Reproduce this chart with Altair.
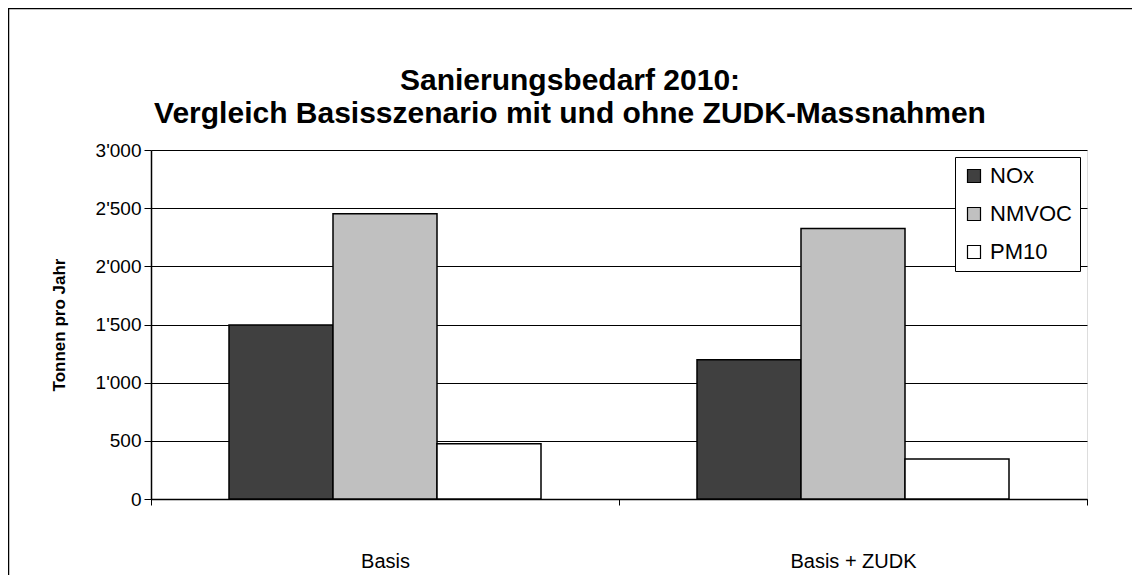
import altair as alt
import pandas as pd

categories = ["Basis", "Basis + ZUDK"]
series = ["NOx", "NMVOC", "PM10"]
nox = [1495, 1197]
nmvoc = [2453, 2325]
pm10 = [474, 344]
colors = ["#404040", "#C0C0C0", "#FFFFFF"]
y_ticks = [0, 500, 1000, 1500, 2000, 2500, 3000]
title_lines = ["Sanierungsbedarf 2010:", "Vergleich Basisszenario mit und ohne ZUDK-Massnahmen"]

rows = []
for i, c in enumerate(categories):
    for s, vals in zip(series, [nox, nmvoc, pm10]):
        rows.append({"Szenario": c, "Schadstoff": s, "Wert": vals[i]})
df = pd.DataFrame(rows)

FONT = "Liberation Sans"
W, H = 936, 349

bars = alt.Chart(df).mark_bar(stroke="black", strokeWidth=1.5).encode(
    x=alt.X("Szenario:N", sort=categories, title=None,
            scale=alt.Scale(paddingInner=0, paddingOuter=0),
            axis=alt.Axis(labelAngle=0, tickBand="extent", tickSize=6,
                          tickColor="black", domainColor="black", domainWidth=1.5,
                          labelFontSize=20, labelFont=FONT, labelColor="black",
                          labelPadding=46, grid=False)),
    xOffset=alt.XOffset("Schadstoff:N", sort=series,
                        scale=alt.Scale(paddingInner=0, paddingOuter=0.75)),
    y=alt.Y("Wert:Q", title="Tonnen pro Jahr",
            scale=alt.Scale(domain=[0, 3000], nice=False),
            axis=alt.Axis(values=y_ticks, labelExpr="replace(format(datum.value, ','), ',', \"'\")",
                          tickSize=7, tickColor="black", domainColor="black", domainWidth=1.5,
                          labelFontSize=19, labelFont=FONT, labelColor="black", labelPadding=3,
                          grid=True, gridColor="black", gridWidth=1,
                          titleFont=FONT, titleFontSize=17, titleFontWeight="bold",
                          titleColor="black", titlePadding=27)),
    fill=alt.Fill("Schadstoff:N", sort=series,
                  scale=alt.Scale(domain=series, range=colors),
                  legend=alt.Legend(title=None, orient="none", legendX=804, legendY=7,
                                    symbolType="square", symbolSize=169,
                                    symbolStrokeColor="black", symbolStrokeWidth=1.2,
                                    labelFont=FONT, labelFontSize=22, labelColor="black",
                                    rowPadding=16, padding=8, labelOffset=5,
                                    strokeColor="black", fillColor="white")),
)

frame = alt.Chart(pd.DataFrame({"a": [0]})).mark_rect(
    fill=None, stroke="black", strokeWidth=1.5
).encode(
    x=alt.value(-142.5), x2=alt.value(1100), y=alt.value(-141.5), y2=alt.value(600)
)

title1 = alt.Chart(pd.DataFrame({"t": [title_lines[0]]})).mark_text(
    font=FONT, fontSize=30, fontWeight="bold", color="black", align="center", baseline="alphabetic"
).encode(text="t:N", x=alt.value(419), y=alt.value(-60))

title2 = alt.Chart(pd.DataFrame({"t": [title_lines[1]]})).mark_text(
    font=FONT, fontSize=30, fontWeight="bold", color="black", align="center", baseline="alphabetic"
).encode(text="t:N", x=alt.value(419), y=alt.value(-27))

chart = alt.layer(frame, title1, title2, bars).properties(
    width=W, height=H,
    autosize=alt.AutoSizeParams(type="none"),
    padding={"left": 143, "top": 142, "right": 45, "bottom": 76},
).configure_view(stroke="black", strokeWidth=1.5).configure(background="white")

chart.save("out.html", embed_options={"renderer": "svg", "actions": False})
